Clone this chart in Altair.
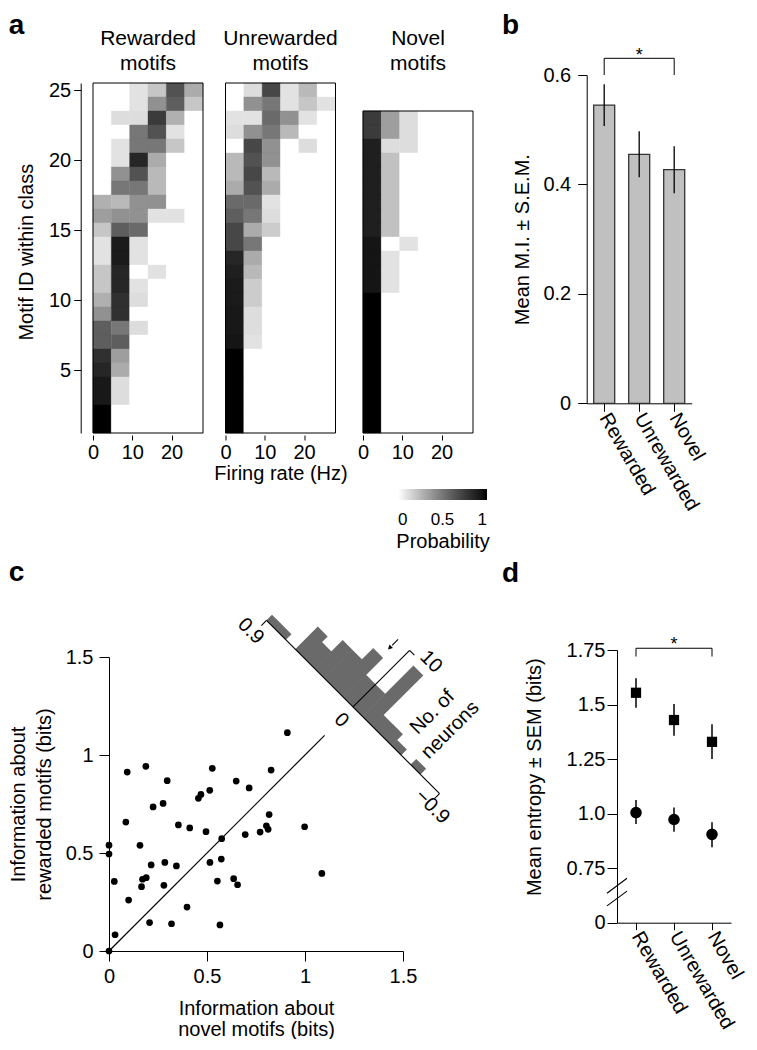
import math
import altair as alt
import pandas as pd

FONT = "Liberation Sans"

# ================= Panel a : probability of firing-rate bin per motif =================
heat_titles = ["Rewarded", "Unrewarded", "Novel"]
rate_max_hz = 28.0
rate_ticks = [0, 10, 20]
motif_ticks = [5, 10, 15, 20, 25]
prob_ticks = [0, 0.5, 1]

# rows listed from the top motif (highest ID) down to motif 1; 6 firing-rate bins each
rewarded_prob = [
    [0.00, 0.00, 0.10, 0.20, 0.65, 0.30],  # 25
    [0.00, 0.00, 0.10, 0.40, 0.60, 0.20],
    [0.00, 0.12, 0.12, 0.75, 0.28, 0.00],
    [0.00, 0.00, 0.50, 0.65, 0.10, 0.00],
    [0.00, 0.10, 0.50, 0.50, 0.20, 0.00],
    [0.00, 0.10, 0.85, 0.30, 0.00, 0.00],  # 20
    [0.00, 0.40, 0.65, 0.25, 0.00, 0.00],
    [0.00, 0.50, 0.50, 0.25, 0.00, 0.00],
    [0.28, 0.25, 0.40, 0.40, 0.00, 0.00],
    [0.35, 0.40, 0.40, 0.10, 0.10, 0.00],
    [0.20, 0.60, 0.55, 0.00, 0.00, 0.00],  # 15
    [0.10, 0.90, 0.10, 0.00, 0.00, 0.00],
    [0.10, 0.90, 0.10, 0.00, 0.00, 0.00],
    [0.20, 0.85, 0.00, 0.10, 0.00, 0.00],
    [0.20, 0.85, 0.10, 0.00, 0.00, 0.00],
    [0.28, 0.80, 0.12, 0.00, 0.00, 0.00],  # 10
    [0.40, 0.80, 0.00, 0.00, 0.00, 0.00],
    [0.60, 0.50, 0.12, 0.00, 0.00, 0.00],
    [0.60, 0.60, 0.00, 0.00, 0.00, 0.00],
    [0.80, 0.35, 0.00, 0.00, 0.00, 0.00],
    [0.85, 0.30, 0.00, 0.00, 0.00, 0.00],  # 5
    [0.92, 0.12, 0.00, 0.00, 0.00, 0.00],
    [0.92, 0.12, 0.00, 0.00, 0.00, 0.00],
    [1.00, 0.00, 0.00, 0.00, 0.00, 0.00],
    [1.00, 0.00, 0.00, 0.00, 0.00, 0.00],  # 1
]
unrewarded_prob = [
    [0.00, 0.12, 0.70, 0.10, 0.25, 0.00],  # 25
    [0.00, 0.40, 0.50, 0.10, 0.20, 0.10],
    [0.10, 0.10, 0.55, 0.40, 0.10, 0.00],
    [0.12, 0.40, 0.50, 0.25, 0.00, 0.00],
    [0.00, 0.70, 0.40, 0.00, 0.12, 0.00],
    [0.25, 0.65, 0.40, 0.00, 0.00, 0.00],  # 20
    [0.25, 0.70, 0.25, 0.00, 0.00, 0.00],
    [0.30, 0.65, 0.30, 0.00, 0.00, 0.00],
    [0.55, 0.55, 0.10, 0.00, 0.00, 0.00],
    [0.60, 0.50, 0.12, 0.00, 0.00, 0.00],
    [0.70, 0.30, 0.18, 0.00, 0.00, 0.00],  # 15
    [0.70, 0.50, 0.00, 0.00, 0.00, 0.00],
    [0.85, 0.30, 0.00, 0.00, 0.00, 0.00],
    [0.88, 0.25, 0.00, 0.00, 0.00, 0.00],
    [0.90, 0.18, 0.00, 0.00, 0.00, 0.00],
    [0.90, 0.18, 0.00, 0.00, 0.00, 0.00],  # 10
    [0.92, 0.12, 0.00, 0.00, 0.00, 0.00],
    [0.92, 0.12, 0.00, 0.00, 0.00, 0.00],
    [0.93, 0.10, 0.00, 0.00, 0.00, 0.00],
    [1.00, 0.00, 0.00, 0.00, 0.00, 0.00],
    [1.00, 0.00, 0.00, 0.00, 0.00, 0.00],  # 5
    [1.00, 0.00, 0.00, 0.00, 0.00, 0.00],
    [1.00, 0.00, 0.00, 0.00, 0.00, 0.00],
    [1.00, 0.00, 0.00, 0.00, 0.00, 0.00],
    [1.00, 0.00, 0.00, 0.00, 0.00, 0.00],  # 1
]
novel_prob = [
    [0.75, 0.35, 0.12, 0.00, 0.00, 0.00],  # 23
    [0.75, 0.35, 0.12, 0.00, 0.00, 0.00],
    [0.88, 0.12, 0.12, 0.00, 0.00, 0.00],
    [0.88, 0.22, 0.00, 0.00, 0.00, 0.00],  # 20
    [0.88, 0.22, 0.00, 0.00, 0.00, 0.00],
    [0.88, 0.22, 0.00, 0.00, 0.00, 0.00],
    [0.88, 0.22, 0.00, 0.00, 0.00, 0.00],
    [0.88, 0.22, 0.00, 0.00, 0.00, 0.00],
    [0.88, 0.22, 0.00, 0.00, 0.00, 0.00],  # 15
    [0.93, 0.00, 0.10, 0.00, 0.00, 0.00],
    [0.93, 0.10, 0.00, 0.00, 0.00, 0.00],
    [0.93, 0.10, 0.00, 0.00, 0.00, 0.00],
    [0.93, 0.10, 0.00, 0.00, 0.00, 0.00],
    [1.00, 0.00, 0.00, 0.00, 0.00, 0.00],  # 10
    [1.00, 0.00, 0.00, 0.00, 0.00, 0.00],
    [1.00, 0.00, 0.00, 0.00, 0.00, 0.00],
    [1.00, 0.00, 0.00, 0.00, 0.00, 0.00],
    [1.00, 0.00, 0.00, 0.00, 0.00, 0.00],
    [1.00, 0.00, 0.00, 0.00, 0.00, 0.00],  # 5
    [1.00, 0.00, 0.00, 0.00, 0.00, 0.00],
    [1.00, 0.00, 0.00, 0.00, 0.00, 0.00],
    [1.00, 0.00, 0.00, 0.00, 0.00, 0.00],
    [1.00, 0.00, 0.00, 0.00, 0.00, 0.00],  # 1
]

# ================= Panel b : mean mutual information =================
mi_classes = ["Rewarded", "Unrewarded", "Novel"]
mi_mean = [0.545, 0.455, 0.427]
mi_sem = [0.038, 0.042, 0.043]
mi_ticks = [0, 0.2, 0.4, 0.6]
mi_bracket_y = [0.6, 0.6305]
mi_star_y = 0.6265

# ================= Panel c : information scatter + difference histogram =================
novel_info = [0.910, 0.093, 0.188, 0.527, 0.827, 0.297, 0.649, 0.715, 0.469, 0.456,
              0.514, 0.276, 0.225, 0.086, 0.817, 0.354, 0.412, 0.495, 0.575, 0.695,
              0.771, 0.803, 0.812, 0.998, 0.000, 0.000, 0.158, 0.027, 0.100, 0.215,
              0.171, 0.190, 0.166, 0.280, 0.285, 0.344, 0.515, 0.573, 0.553, 0.636,
              0.656, 1.086, 0.398, 0.207, 0.319, 0.566, 0.031, 0.000]
rewarded_info = [1.114, 0.913, 0.942, 0.932, 0.923, 0.869, 0.867, 0.832, 0.799, 0.779,
                 0.820, 0.753, 0.735, 0.658, 0.696, 0.643, 0.628, 0.609, 0.573, 0.594,
                 0.607, 0.639, 0.621, 0.634, 0.540, 0.495, 0.539, 0.355, 0.260, 0.439,
                 0.366, 0.374, 0.328, 0.335, 0.452, 0.434, 0.452, 0.469, 0.357, 0.369,
                 0.338, 0.396, 0.224, 0.145, 0.139, 0.133, 0.083, 0.000]
info_ticks = [0, 0.5, 1, 1.5]
diag_end = 1.1
diff_hist_top = 0.9
diff_hist_step = 0.1
diff_hist_counts = [1, 1, 0, 4, 3, 5, 5, 7, 4, 4, 9, 2, 2, 1, 0, 1, 0, 0]
diff_arrow_value = 0.117
diff_count_tick = 10

# ================= Panel d : mean entropy =================
ent_classes = ["Rewarded", "Unrewarded", "Novel"]
sq_mean = [1.554, 1.429, 1.329]
sq_lo = [1.485, 1.357, 1.250]
sq_hi = [1.620, 1.502, 1.410]
ci_mean = [1.005, 0.973, 0.905]
ci_lo = [0.952, 0.917, 0.846]
ci_hi = [1.062, 1.028, 0.960]
ent_ticks = [0.5, 0.75, 1.0, 1.25, 1.5, 1.75]
ent_tick_labels = ["0", "0.75", "1.0", "1.25", "1.5", "1.75"]
ent_bracket_y = [1.72, 1.758]
ent_star_y = 1.75
ent_break = [(0.635, 0.704), (0.577, 0.645)]

LABEL_ANGLE = 60


# ---------------------------------------------------------------------------
def panel_label(letter, dx, dy):
    return alt.Chart(pd.DataFrame({"t": [letter]})).mark_text(
        align="left", baseline="alphabetic", fontSize=28, fontWeight="bold", color="black"
    ).encode(text="t:N", x=alt.value(dx), y=alt.value(dy))


def heading(lines, cx, y_first):
    return alt.Chart(pd.DataFrame({"k": [0]})).mark_text(
        text=lines, align="center", baseline="alphabetic", fontSize=21, lineHeight=25,
        color="black"
    ).encode(x=alt.value(cx), y=alt.value(y_first))


# ---------------- panel a ----------------
xs_a = alt.Scale(domain=[0, rate_max_hz], nice=False, zero=False)
ys_a = alt.Scale(domain=[0.5, 25.5], nice=False, zero=False)
cs_a = alt.Scale(domain=[0, 1], range=["#ffffff", "#000000"])


def heat_panel(rows, title, first=False, middle=False, last=False):
    n = len(rows)
    bw = rate_max_hz / len(rows[0])
    rec = []
    for k, row in enumerate(rows):
        m = n - k
        for j, p in enumerate(row):
            rec.append({"r0": j * bw, "r1": (j + 1) * bw, "m0": m - 0.5, "m1": m + 0.5, "p": p})
    df = pd.DataFrame(rec)
    frame_df = pd.DataFrame({"r0": [0.0], "r1": [rate_max_hz], "m0": [0.5], "m1": [n + 0.5]})

    xkw = dict(values=rate_ticks, domain=False, tickSize=5, offset=2, labelPadding=2,
               labelFlush=False, grid=False)
    if middle:
        x = alt.X("r0:Q", scale=xs_a, axis=alt.Axis(titlePadding=1, **xkw), title="Firing rate (Hz)")
    else:
        x = alt.X("r0:Q", scale=xs_a, axis=alt.Axis(**xkw), title=None)
    if first:
        y = alt.Y("m0:Q", scale=ys_a, axis=alt.Axis(
            values=motif_ticks, offset=12.3, tickSize=7, labelPadding=3, grid=False,
            titlePadding=12, titleY=168.7), title="Motif ID within class")
    else:
        y = alt.Y("m0:Q", scale=ys_a, axis=None)

    if last:
        color = alt.Color("p:Q", scale=cs_a, legend=alt.Legend(
            orient="none", legendX=33, legendY=406, direction="horizontal",
            gradientLength=89, gradientThickness=11, values=prob_ticks, format="~g",
            labelFontSize=17, labelOffset=12, labelAlign="center", title="Probability",
            titleOrient="bottom", titleAnchor="middle", titleFontSize=20,
            titleFontWeight="normal", titlePadding=4, padding=0, gradientStrokeWidth=0))
    else:
        color = alt.Color("p:Q", scale=cs_a, legend=None)

    cells = alt.Chart(df).mark_rect(strokeWidth=0.4).encode(
        x=x, x2="r1:Q", y=y, y2="m1:Q", color=color,
        stroke=alt.Stroke("p:Q", scale=cs_a, legend=None))
    frame = alt.Chart(frame_df).mark_rect(filled=False, stroke="black", strokeWidth=1).encode(
        x=x, x2="r1:Q", y=y, y2="m1:Q")
    layers = [cells, frame, heading([title, "motifs"], 55, -38)]
    if first:
        layers.append(panel_label("a", -84.3, -49))
    return alt.layer(*layers).properties(width=110, height=350)


A1 = heat_panel(rewarded_prob, heat_titles[0], first=True)
A2 = heat_panel(unrewarded_prob, heat_titles[1], middle=True)
A3 = heat_panel(novel_prob, heat_titles[2], last=True)
arow = alt.hconcat(A1, A2, A3, spacing=9.5).resolve_scale(color="independent")

# ---------------- panel b ----------------
# B shares its left edge with panel d's y axis; its own axis sits 30.3px further left
bdf = pd.DataFrame({"cat": mi_classes, "v": mi_mean,
                    "lo": [m - s for m, s in zip(mi_mean, mi_sem)],
                    "hi": [m + s for m, s in zip(mi_mean, mi_sem)]})
xsB = alt.Scale(type="band", paddingInner=0.4, paddingOuter=0.2, range=[-30.3, 74.7])
axB_x = alt.Axis(labelAngle=LABEL_ANGLE, labelAlign="left", labelBaseline="middle", tickSize=8,
                 labelPadding=3, grid=False)
ysB = alt.Scale(domain=[0, 0.6], nice=False, zero=True, range=[320.3, -8])
axB_y = alt.Axis(values=mi_ticks, format="~g", tickSize=9, labelPadding=7, grid=False,
                 titlePadding=10, offset=30.3)


def xB():
    return alt.X("cat:N", sort=mi_classes, scale=xsB, axis=axB_x, title=None)


def yB(f):
    return alt.Y(f, type="quantitative", scale=ysB, axis=axB_y, title="Mean M.I. ± S.E.M.")


bars = alt.Chart(bdf).mark_bar(color="#c0c0c0", stroke="#333333", strokeWidth=1.3).encode(
    x=xB(), y=yB("v"))
berr = alt.Chart(bdf).mark_rule(color="black", strokeWidth=1.3).encode(
    x=xB(), y=yB("lo"), y2="hi:Q")
bbr = pd.DataFrame({"cat": [mi_classes[0], mi_classes[0], mi_classes[2], mi_classes[2]],
                    "v": [mi_bracket_y[0], mi_bracket_y[1], mi_bracket_y[1], mi_bracket_y[0]],
                    "o": [0, 1, 2, 3]})
bbracket = alt.Chart(bbr).mark_line(color="black", strokeWidth=1).encode(
    x=xB(), y=yB("v"), order="o:Q")
bstar = alt.Chart(pd.DataFrame({"cat": [mi_classes[1]], "v": [mi_star_y], "t": ["*"]})).mark_text(
    fontSize=18, color="black", baseline="alphabetic").encode(x=xB(), y=yB("v"), text="t:N")
B = alt.layer(bars, berr, bbracket, bstar, panel_label("b", -115, -49)).properties(
    width=74.7, height=320.3)

# ---------------- panel c ----------------
# C shares its left edge with A1's plot; its own axes start 16px to the right
C_PX = 294.0 / 1.5           # pixels per bit in panel c
HIST_ORIGIN = 1.245          # where the histogram's zero sits on the diagonal (bits)
HIST_VALUE_LEN = 136.0 / C_PX  # bits of page per unit of information difference
HIST_COUNT_LEN = 8.0 / C_PX    # bits of page per neuron
S2 = math.sqrt(2.0)


def hist_xy(v, c):
    a = -v * HIST_VALUE_LEN
    b = c * HIST_COUNT_LEN
    return HIST_ORIGIN + (a + b) / S2, HIST_ORIGIN + (-a + b) / S2


xsC = alt.Scale(domain=[0, 1.5], nice=False, zero=False, range=[16, 310])
ysC = alt.Scale(domain=[0, 1.5], nice=False, zero=False)
axC_x = alt.Axis(values=info_ticks, format="~g", tickSize=10, labelPadding=5, labelFlush=False,
                 titlePadding=12, titleLineHeight=21, grid=False)
axC_y = alt.Axis(values=info_ticks, format="~g", tickSize=10, labelPadding=6, labelFlush=False,
                 titlePadding=11, titleLineHeight=26, grid=False, offset=-16)


def xC(f):
    return alt.X(f, type="quantitative", scale=xsC, axis=axC_x,
                 title=["Information about", "novel motifs (bits)"])


def yC(f):
    return alt.Y(f, type="quantitative", scale=ysC, axis=axC_y,
                 title=["Information about", "rewarded motifs (bits)"])


pts = pd.DataFrame({"nx": novel_info, "ry": rewarded_info})
scatter = alt.Chart(pts).mark_circle(size=45, color="black", opacity=1).encode(
    x=xC("nx"), y=yC("ry"))
diag = alt.Chart(pd.DataFrame({"nx": [0.0, diag_end], "ry": [0.0, diag_end]})).mark_line(
    color="black", strokeWidth=1.2).encode(x=xC("nx"), y=yC("ry"))

bar_rows = []
for i, cnt in enumerate(diff_hist_counts):
    if cnt <= 0:
        continue
    mid = diff_hist_top - (i + 0.5) * diff_hist_step
    x0, y0 = hist_xy(mid, 0)
    x1, y1 = hist_xy(mid, cnt)
    bar_rows.append({"hx": x0, "hy": y0, "hx2": x1, "hy2": y1})
bar_px = diff_hist_step * HIST_VALUE_LEN * C_PX + 0.4
hbars = alt.Chart(pd.DataFrame(bar_rows)).mark_rule(
    color="#6a6a6a", strokeWidth=bar_px, strokeCap="butt").encode(
    x=xC("hx"), y=yC("hy"), x2="hx2:Q", y2="hy2:Q")

segs = [
    (diff_hist_top, 0, -diff_hist_top, 0),
    (diff_hist_top, 0, diff_hist_top, -0.9),
    (-diff_hist_top, 0, -diff_hist_top, -0.9),
    (0, 0, 0, diff_count_tick),
    (0, diff_count_tick, -0.05, diff_count_tick),
    (diff_arrow_value, 9.95, diff_arrow_value, 8.9),
]
seg_rows = []
for v1, c1, v2, c2 in segs:
    x1, y1 = hist_xy(v1, c1)
    x2, y2 = hist_xy(v2, c2)
    seg_rows.append({"hx": x1, "hy": y1, "hx2": x2, "hy2": y2})
hsegs = alt.Chart(pd.DataFrame(seg_rows)).mark_rule(color="black", strokeWidth=1.1).encode(
    x=xC("hx"), y=yC("hy"), x2="hx2:Q", y2="hy2:Q")

ax_, ay_ = hist_xy(diff_arrow_value, 8.55)
harrow = alt.Chart(pd.DataFrame({"hx": [ax_], "hy": [ay_]})).mark_point(
    shape="triangle", filled=True, size=26, angle=225, color="black", opacity=1).encode(
    x=xC("hx"), y=yC("hy"))

t45 = [("0.9", diff_hist_top + 0.026, -2.34), ("0", -0.008, -2.2),
       ("−0.9", -diff_hist_top - 0.03, -1.8), (str(diff_count_tick), -0.17, diff_count_tick + 0.9)]
t45_rows = []
for t, v, c in t45:
    x, y = hist_xy(v, c)
    t45_rows.append({"hx": x, "hy": y, "t": t})
htext45 = alt.Chart(pd.DataFrame(t45_rows)).mark_text(
    angle=45, fontSize=20, color="black", align="center", baseline="middle").encode(
    x=xC("hx"), y=yC("hy"), text="t:N")
t315 = [("No. of", -0.44, 6.55), ("neurons", -0.625, 6.55)]
t315_rows = []
for t, v, c in t315:
    x, y = hist_xy(v, c)
    t315_rows.append({"hx": x, "hy": y, "t": t})
htext315 = alt.Chart(pd.DataFrame(t315_rows)).mark_text(
    angle=315, fontSize=20, color="black", align="center", baseline="middle").encode(
    x=xC("hx"), y=yC("hy"), text="t:N")

C = alt.layer(diag, scatter, hbars, hsegs, harrow, htext45, htext315,
              panel_label("c", -84.3, -76)).properties(width=310, height=294)

# ---------------- panel d ----------------
xsD = alt.Scale(type="point", padding=0.5)
axD_x = alt.Axis(labelAngle=LABEL_ANGLE, labelAlign="left", labelBaseline="middle", tickSize=7,
                 labelPadding=3, grid=False)
ysD = alt.Scale(domain=[ent_ticks[0], ent_ticks[-1]], nice=False, zero=False)
lab_list = ",".join("'" + s + "'" for s in ent_tick_labels)
axD_y = alt.Axis(values=ent_ticks, tickSize=10, labelPadding=2, grid=False, titlePadding=22,
                 titleY=126.7,
                 labelExpr="[" + lab_list + "][round((datum.value-0.5)/0.25)]")


def xD():
    return alt.X("cat:N", sort=ent_classes, scale=xsD, axis=axD_x, title=None)


def yD(f):
    return alt.Y(f, type="quantitative", scale=ysD, axis=axD_y, title="Mean entropy ± SEM (bits)")


ddf = pd.DataFrame({"cat": ent_classes, "sm": sq_mean, "slo": sq_lo, "shi": sq_hi,
                    "cm": ci_mean, "clo": ci_lo, "chi": ci_hi})
d_err_s = alt.Chart(ddf).mark_rule(color="black", strokeWidth=1.5).encode(
    x=xD(), y=yD("slo"), y2="shi:Q")
d_err_c = alt.Chart(ddf).mark_rule(color="black", strokeWidth=1.5).encode(
    x=xD(), y=yD("clo"), y2="chi:Q")
d_sq = alt.Chart(ddf).mark_point(shape="square", filled=True, size=105, color="black",
                                 opacity=1).encode(x=xD(), y=yD("sm"))
d_ci = alt.Chart(ddf).mark_point(shape="circle", filled=True, size=135, color="black",
                                 opacity=1).encode(x=xD(), y=yD("cm"))
dbr = pd.DataFrame({"cat": [ent_classes[0], ent_classes[0], ent_classes[2], ent_classes[2]],
                    "v": [ent_bracket_y[0], ent_bracket_y[1], ent_bracket_y[1], ent_bracket_y[0]],
                    "o": [0, 1, 2, 3]})
d_bracket = alt.Chart(dbr).mark_line(color="black", strokeWidth=1).encode(
    x=xD(), y=yD("v"), order="o:Q")
d_star = alt.Chart(pd.DataFrame({"cat": [ent_classes[1]], "v": [ent_star_y], "t": ["*"]})).mark_text(
    fontSize=18, color="black", baseline="alphabetic").encode(x=xD(), y=yD("v"), text="t:N")
d_break = alt.Chart(pd.DataFrame({"b0": [b[0] for b in ent_break],
                                  "b1": [b[1] for b in ent_break]})).mark_rule(
    color="black", strokeWidth=1.1).encode(
    x=alt.value(-10), x2=alt.value(10), y=yD("b0"), y2="b1:Q")
D = alt.layer(d_err_s, d_err_c, d_sq, d_ci, d_bracket, d_star, d_break,
              panel_label("d", -115, -68)).properties(width=114, height=272.7)

# ---------------- layout ----------------
left_col = alt.vconcat(arow, C, spacing=7)
right_col = alt.vconcat(B, D, spacing=46)
chart = alt.hconcat(left_col, right_col, spacing=12,
                    padding={"left": 0, "top": 4, "right": 2, "bottom": 0}).configure_view(
    strokeWidth=0
).configure_axis(
    labelFont=FONT, titleFont=FONT, labelFontSize=20, titleFontSize=20,
    titleFontWeight="normal", labelColor="black", titleColor="black",
    domainColor="black", tickColor="black", domainWidth=1, tickWidth=1
).configure_legend(
    labelFont=FONT, titleFont=FONT, labelColor="black", titleColor="black"
).configure_text(font=FONT)

chart.save("out.html", embed_options={"renderer": "svg", "actions": False})
